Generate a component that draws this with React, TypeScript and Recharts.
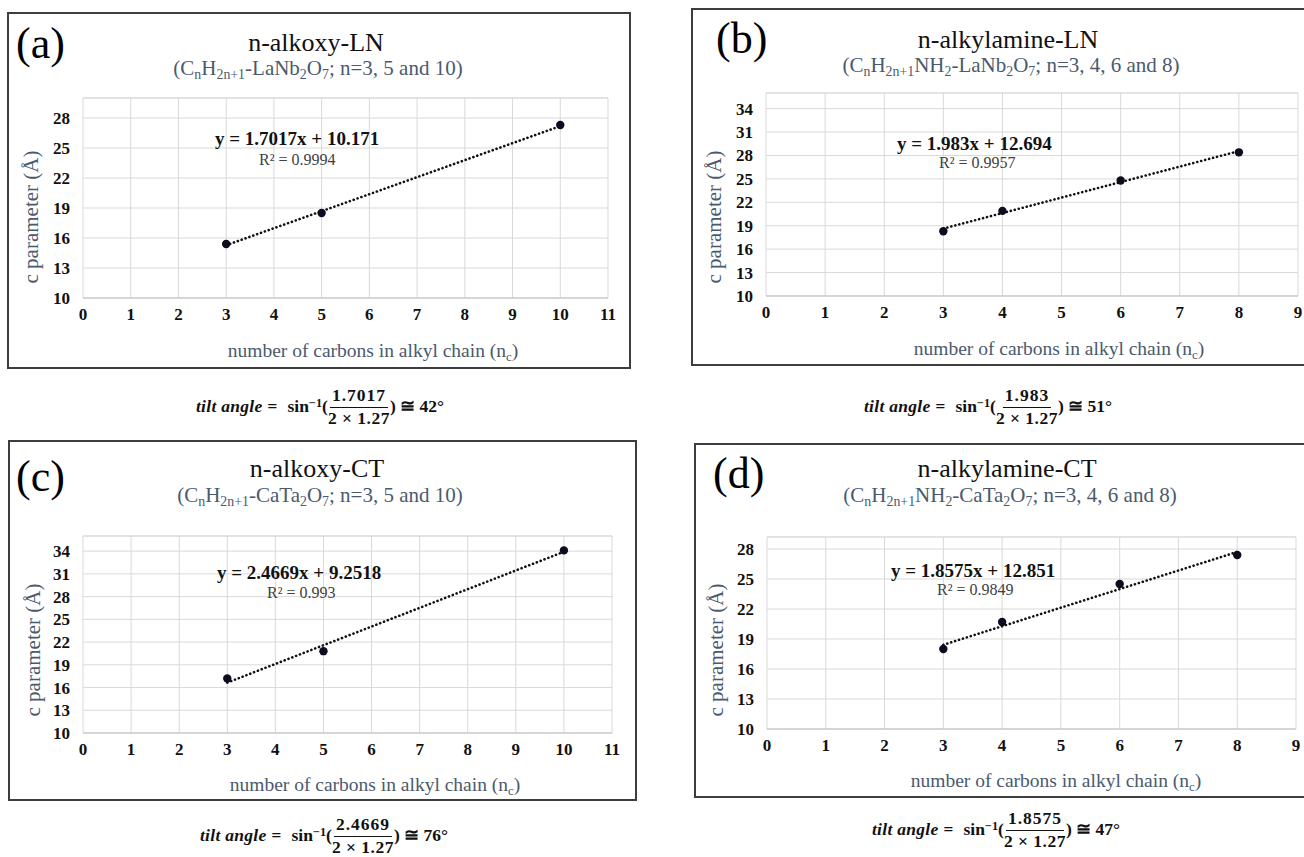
import React from 'react';
import { ScatterChart, Scatter, XAxis, YAxis, CartesianGrid, ReferenceLine } from 'recharts';

// carbon number n and c parameter (Å)
const lnAlkoxyN = [3, 5, 10];
const lnAlkoxyC = [15.4, 18.5, 27.3];
const lnAmineN = [3, 4, 6, 8];
const lnAmineC = [18.3, 20.9, 24.8, 28.4];
const ctAlkoxyN = [3, 5, 10];
const ctAlkoxyC = [17.2, 20.8, 34.1];
const ctAmineN = [3, 4, 6, 8];
const ctAmineC = [18.0, 20.7, 24.5, 27.4];

// dotted trendline end points (start n, end n / start c, end c)
const lnAlkoxyTrendN = [3, 10];
const lnAlkoxyTrendC = [15.28, 27.19];
const lnAmineTrendN = [3, 8];
const lnAmineTrendC = [18.64, 28.56];
const ctAlkoxyTrendN = [3, 10];
const ctAlkoxyTrendC = [16.65, 33.92];
const ctAmineTrendN = [3, 8];
const ctAmineTrendC = [18.42, 27.71];

const xTicks11 = [0, 1, 2, 3, 4, 5, 6, 7, 8, 9, 10, 11];
const xTicks9 = [0, 1, 2, 3, 4, 5, 6, 7, 8, 9];
const yTicks28 = [10, 13, 16, 19, 22, 25, 28];
const yTicks34 = [10, 13, 16, 19, 22, 25, 28, 31, 34];

const equations = ['y = 1.7017x + 10.171', 'y = 1.983x + 12.694', 'y = 2.4669x + 9.2518', 'y = 1.8575x + 12.851'];
const rSquared = ['R² = 0.9994', 'R² = 0.9957', 'R² = 0.993', 'R² = 0.9849'];
const slopes = ['1.7017', '1.983', '2.4669', '1.8575'];
const tiltDegrees = ['42', '51', '76', '47'];

const SERIF = '"Liberation Serif", "DejaVu Serif", serif';
const SLATE = '#4a5a6e';
const GRID = '#d9d9d9';

const toPoints = (xs: number[], ys: number[]) => xs.map((x, i) => ({ x, y: ys[i] }));

const Sub = ({ children }: { children: React.ReactNode }) => (
  <span style={{ fontSize: '0.66em', verticalAlign: '-0.32em' }}>{children}</span>
);

type Pt = [number, number];
type PanelCfg = {
  tag: string;
  title: string;
  sub: React.ReactNode;
  frame: [number, number, number, number];
  plot: [number, number, number, number];
  xTicks: number[];
  yTicks: number[];
  yMax: number;
  points: { x: number; y: number }[];
  trend: { x: number; y: number }[];
  idx: number;
  tagPos: Pt;
  titlePos: Pt;
  subPos: Pt;
  yTitlePos: Pt;
  xTitlePos: Pt;
  eqPos: Pt;
  r2Pos: Pt;
  tiltPos: Pt;
};

const panels: PanelCfg[] = [
  {
    tag: '(a)', title: 'n-alkoxy-LN',
    sub: <>(C<Sub>n</Sub>H<Sub>2n+1</Sub>-LaNb<Sub>2</Sub>O<Sub>7</Sub>; n=3, 5 and 10)</>,
    frame: [7, 12, 631, 369], plot: [83, 98, 608, 298],
    xTicks: xTicks11, yTicks: yTicks28, yMax: 30,
    points: toPoints(lnAlkoxyN, lnAlkoxyC), trend: toPoints(lnAlkoxyTrendN, lnAlkoxyTrendC), idx: 0,
    tagPos: [16, 44], titlePos: [316, 43], subPos: [318, 70], yTitlePos: [31, 217], xTitlePos: [373, 352],
    eqPos: [215, 138], r2Pos: [259, 160], tiltPos: [320, 407],
  },
  {
    tag: '(b)', title: 'n-alkylamine-LN',
    sub: <>(C<Sub>n</Sub>H<Sub>2n+1</Sub>NH<Sub>2</Sub>-LaNb<Sub>2</Sub>O<Sub>7</Sub>; n=3, 4, 6 and 8)</>,
    frame: [691, 8, 1312, 366], plot: [766, 93, 1298, 296],
    xTicks: xTicks9, yTicks: yTicks34, yMax: 36,
    points: toPoints(lnAmineN, lnAmineC), trend: toPoints(lnAmineTrendN, lnAmineTrendC), idx: 1,
    tagPos: [716, 39], titlePos: [1008, 40], subPos: [1011, 67], yTitlePos: [714, 217], xTitlePos: [1059, 350],
    eqPos: [897, 143], r2Pos: [939, 163], tiltPos: [988, 407],
  },
  {
    tag: '(c)', title: 'n-alkoxy-CT',
    sub: <>(C<Sub>n</Sub>H<Sub>2n+1</Sub>-CaTa<Sub>2</Sub>O<Sub>7</Sub>; n=3, 5 and 10)</>,
    frame: [8, 440, 637, 801], plot: [83, 536, 612, 733],
    xTicks: xTicks11, yTicks: yTicks34, yMax: 36,
    points: toPoints(ctAlkoxyN, ctAlkoxyC), trend: toPoints(ctAlkoxyTrendN, ctAlkoxyTrendC), idx: 2,
    tagPos: [16, 477], titlePos: [317, 469], subPos: [320, 497], yTitlePos: [33, 650], xTitlePos: [375, 786],
    eqPos: [217, 572], r2Pos: [267, 593], tiltPos: [324, 836],
  },
  {
    tag: '(d)', title: 'n-alkylamine-CT',
    sub: <>(C<Sub>n</Sub>H<Sub>2n+1</Sub>NH<Sub>2</Sub>-CaTa<Sub>2</Sub>O<Sub>7</Sub>; n=3, 4, 6 and 8)</>,
    frame: [694, 443, 1312, 798], plot: [767, 537, 1296, 729],
    xTicks: xTicks9, yTicks: yTicks28, yMax: 29.2,
    points: toPoints(ctAmineN, ctAmineC), trend: toPoints(ctAmineTrendN, ctAmineTrendC), idx: 3,
    tagPos: [713, 474], titlePos: [1007, 469], subPos: [1010, 497], yTitlePos: [716, 650], xTitlePos: [1056, 782],
    eqPos: [891, 570], r2Pos: [937, 590], tiltPos: [996, 830],
  },
];

const abs = (x: number, y: number, extra: React.CSSProperties = {}): React.CSSProperties => ({
  position: 'absolute', left: x, top: y, whiteSpace: 'nowrap', lineHeight: 1, ...extra,
});

const Dot = (props: any) => <circle cx={props.cx} cy={props.cy} r={4.2} fill="#0b0d1f" />;
const NoDot = () => <g />;

function Tilt({ num, deg, pos }: { num: string; deg: string; pos: Pt }) {
  return (
    <div style={abs(pos[0], pos[1], {
      transform: 'translate(-50%, -50%)', display: 'flex', alignItems: 'center',
      fontFamily: SERIF, fontWeight: 700, fontSize: 17.5, color: '#111',
    })}>
      <span style={{ fontStyle: 'italic', letterSpacing: 0.3 }}>tilt angle =</span>
      <span style={{ marginLeft: 10 }}>sin<span style={{ fontSize: '0.7em', position: 'relative', top: '-0.45em' }}>−1</span>(</span>
      <span style={{ display: 'inline-flex', flexDirection: 'column', alignItems: 'center' }}>
        <span style={{ borderBottom: '1.5px solid #111', padding: '0 2px 2px', letterSpacing: 1 }}>{num}</span>
        <span style={{ paddingTop: 2, letterSpacing: 0.5 }}>2 × 1.27</span>
      </span>
      <span>) ≅ {deg}°</span>
    </div>
  );
}

function Panel({ p }: { p: PanelCfg }) {
  const [fl, ft, fr, fb] = p.frame;
  const [pl, pt, pr, pb] = p.plot;
  const w = fr - fl;
  const h = fb - ft;
  const xAxisH = 30;
  const tickStyle = { fontFamily: SERIF, fontWeight: 700, fontSize: 17, fill: '#111' };
  return (
    <>
      <div style={{ position: 'absolute', left: fl, top: ft, width: w, height: h, border: '2px solid #3d3d3d', boxSizing: 'border-box' }} />
      <div style={{ position: 'absolute', left: fl, top: ft }}>
        <ScatterChart
          width={w}
          height={h}
          margin={{ top: pt - ft, right: fr - pr, bottom: fb - pb - xAxisH, left: 0 }}
        >
          <CartesianGrid stroke={GRID} strokeWidth={1} />
          <ReferenceLine y={p.yMax} stroke={GRID} strokeWidth={1} />
          <XAxis
            type="number" dataKey="x" domain={[0, p.xTicks[p.xTicks.length - 1]]} ticks={p.xTicks} interval={0}
            axisLine={{ stroke: '#bfbfbf' }} tickLine={false} tickSize={0} tickMargin={10} height={xAxisH} tick={tickStyle}
          />
          <YAxis
            type="number" dataKey="y" domain={[10, p.yMax]} ticks={p.yTicks} interval={0} allowDataOverflow
            axisLine={false} tickLine={false} tickSize={0} tickMargin={13} width={pl - fl} tick={tickStyle}
          />
          <Scatter
            data={p.trend} isAnimationActive={false} shape={NoDot} lineType="joint"
            line={{ stroke: '#111', strokeWidth: 2.6, strokeDasharray: '0.1 4', strokeLinecap: 'round' }}
          />
          <Scatter data={p.points} isAnimationActive={false} shape={Dot} />
        </ScatterChart>
      </div>
      <div style={abs(p.tagPos[0], p.tagPos[1], { transform: 'translateY(-50%)', fontFamily: SERIF, fontSize: 44, color: '#000' })}>{p.tag}</div>
      <div style={abs(p.titlePos[0], p.titlePos[1], { transform: 'translate(-50%, -50%)', fontFamily: SERIF, fontSize: 26, color: '#111' })}>{p.title}</div>
      <div style={abs(p.subPos[0], p.subPos[1], { transform: 'translate(-50%, -50%)', fontFamily: SERIF, fontSize: 21, color: SLATE })}>{p.sub}</div>
      <div style={abs(p.yTitlePos[0], p.yTitlePos[1], { transform: 'translate(-50%, -50%) rotate(-90deg)', fontFamily: SERIF, fontSize: 21, color: SLATE })}>c parameter (Å)</div>
      <div style={abs(p.xTitlePos[0], p.xTitlePos[1], { transform: 'translate(-50%, -50%)', fontFamily: SERIF, fontSize: 19.5, color: SLATE })}>
        number of carbons in alkyl chain (n<Sub>c</Sub>)
      </div>
      <div style={abs(p.eqPos[0], p.eqPos[1], { transform: 'translateY(-50%)', fontFamily: SERIF, fontWeight: 700, fontSize: 19, color: '#111' })}>{equations[p.idx]}</div>
      <div style={abs(p.r2Pos[0], p.r2Pos[1], { transform: 'translateY(-50%)', fontFamily: SERIF, fontSize: 16, color: '#404040' })}>{rSquared[p.idx]}</div>
      <Tilt num={slopes[p.idx]} deg={tiltDegrees[p.idx]} pos={p.tiltPos} />
    </>
  );
}

export default function App() {
  return (
    <div style={{ position: 'absolute', left: 0, top: 0, width: 1304, height: 857, overflow: 'hidden', background: '#fff' }}>
      {panels.map((p) => (
        <Panel key={p.tag} p={p} />
      ))}
    </div>
  );
}
